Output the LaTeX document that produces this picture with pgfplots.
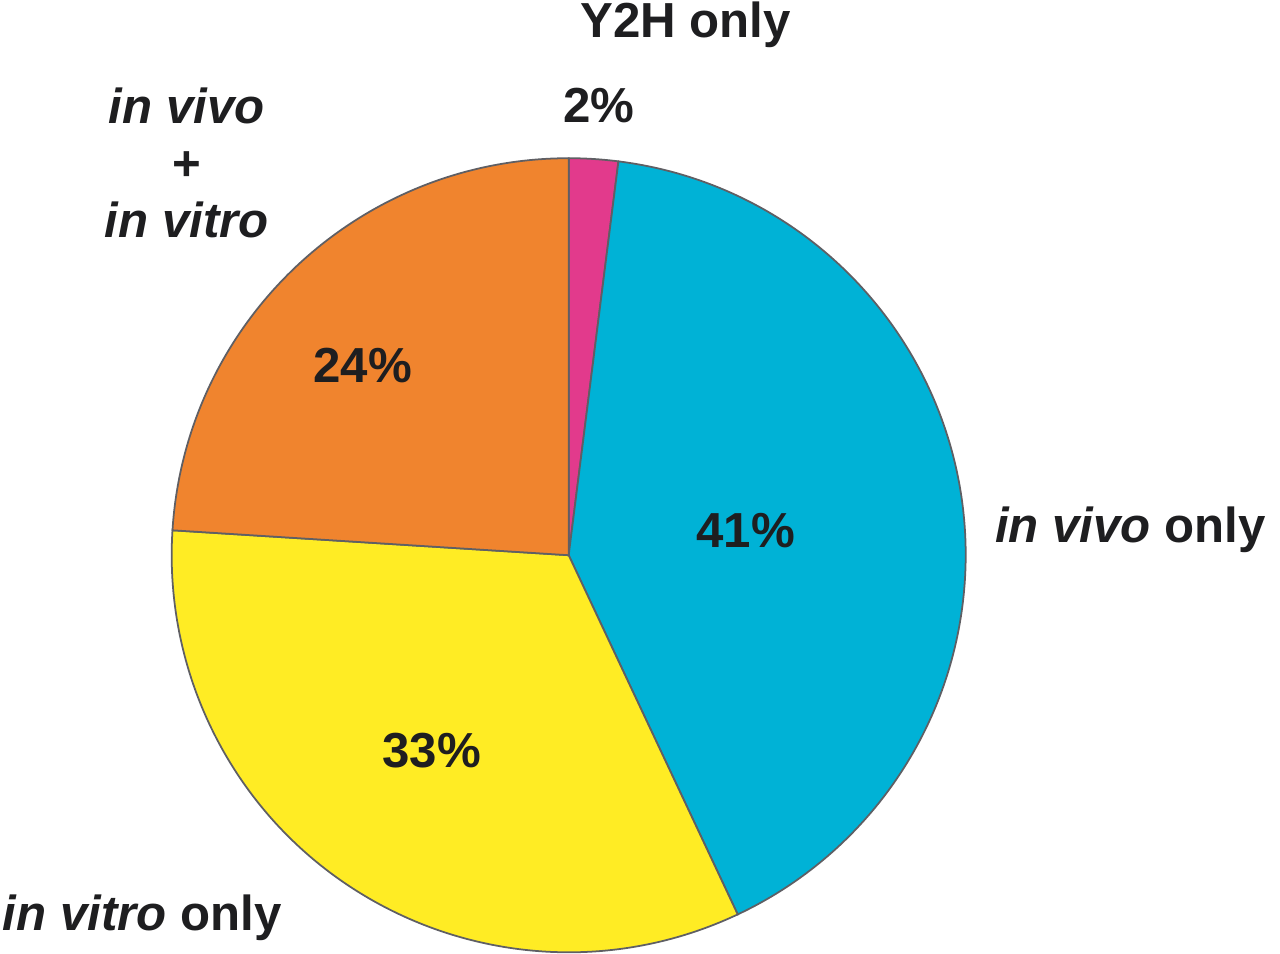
\documentclass[border=0pt]{standalone}
\usepackage{pgfplots}
\usepackage{pgfplotstable}
\pgfplotsset{compat=1.18}
\usepackage{fontspec}
\setmainfont{Liberation Sans}

\definecolor{pinkc}{RGB}{226,58,140}
\definecolor{bluec}{RGB}{0,178,214}
\definecolor{yellowc}{RGB}{255,236,36}
\definecolor{orangec}{RGB}{240,132,46}
\definecolor{edgec}{RGB}{95,95,100}
\definecolor{txt}{RGB}{30,30,32}

% share of each interaction class, clockwise from 12 o'clock
\pgfplotstableread{
slice pct
Y2H   2
vivo  41
vitro 33
both  24
}\piedata

\pgfplotstablegetelem{0}{pct}\of\piedata \let\pA\pgfplotsretval
\pgfplotstablegetelem{1}{pct}\of\piedata \let\pB\pgfplotsretval
\pgfplotstablegetelem{2}{pct}\of\piedata \let\pC\pgfplotsretval
\pgfplotstablegetelem{3}{pct}\of\piedata \let\pD\pgfplotsretval

\pgfmathsetmacro\aA{90}
\pgfmathsetmacro\aB{\aA-3.6*\pA}
\pgfmathsetmacro\aC{\aB-3.6*\pB}
\pgfmathsetmacro\aD{\aC-3.6*\pC}
\pgfmathsetmacro\aE{\aD-3.6*\pD}

\def\R{3.97cm}

\begin{document}
\begin{tikzpicture}[every node/.style={text=txt,inner sep=0pt,font=\fontsize{14}{16}\selectfont\bfseries}]
\begin{axis}[
    x=0.01cm, y=0.01cm,
    xmin=0, xmax=1280,
    ymin=0, ymax=954,
    hide axis,
    clip=false,
    at={(0,0)}, anchor=south west,
]
% wedges
\fill[pinkc, draw=edgec, line width=0.5pt]
    (axis cs:569,399) -- ++(\aA:\R) arc[start angle=\aA, end angle=\aB, radius=\R] -- cycle;
\fill[bluec, draw=edgec, line width=0.5pt]
    (axis cs:569,399) -- ++(\aB:\R) arc[start angle=\aB, end angle=\aC, radius=\R] -- cycle;
\fill[yellowc, draw=edgec, line width=0.5pt]
    (axis cs:569,399) -- ++(\aC:\R) arc[start angle=\aC, end angle=\aD, radius=\R] -- cycle;
\fill[orangec, draw=edgec, line width=0.5pt]
    (axis cs:569,399) -- ++(\aD:\R) arc[start angle=\aD, end angle=\aE, radius=\R] -- cycle;

% percentages
\node[anchor=base] at (axis cs:599,832) {2\%};
\node[anchor=base] at (axis cs:746,407) {41\%};
\node[anchor=base] at (axis cs:432,187) {33\%};
\node[anchor=base] at (axis cs:363,572) {24\%};

% category labels
\node[anchor=base] at (axis cs:686,917) {Y2H only};
\node[anchor=base west] at (axis cs:995,412) {\itshape in vivo\upshape{} only};
\node[anchor=base west] at (axis cs:2,24) {\itshape in vitro\upshape{} only};
\node[anchor=base] at (axis cs:187,831) {\itshape in vivo};
\node[anchor=base] at (axis cs:187,774) {+};
\node[anchor=base] at (axis cs:187,717) {\itshape in vitro};
\end{axis}
\pgfresetboundingbox
\path[use as bounding box] (0,0) rectangle (12.8cm,9.54cm);
\end{tikzpicture}
\end{document}
